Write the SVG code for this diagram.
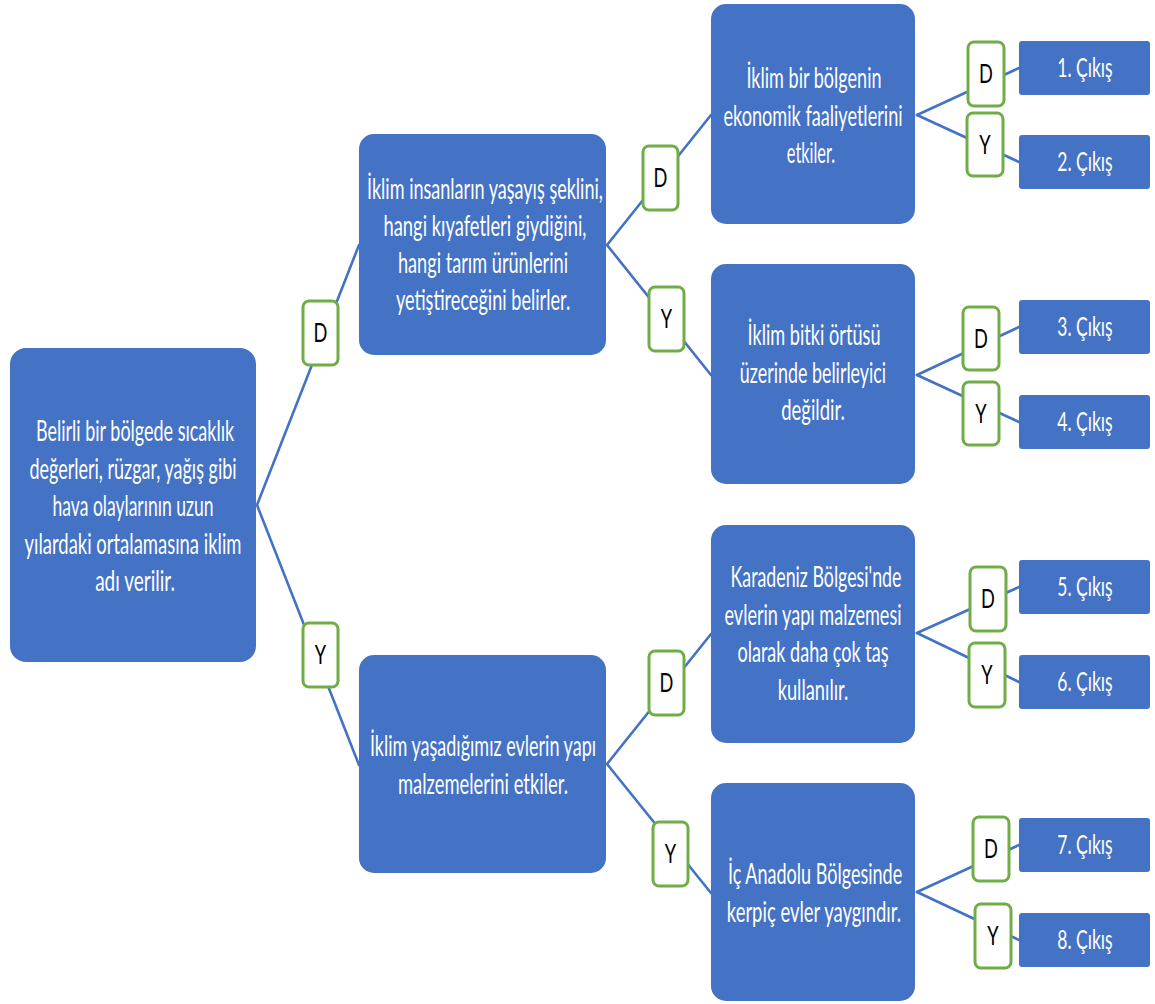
<svg xmlns="http://www.w3.org/2000/svg" width="1155" height="1004" viewBox="0 0 1155 1004">
  <style>
    .node { fill: #4472C4; }
    .out { fill: #4472C4; }
    .tag { fill: #FFFFFF; stroke: #70AD47; stroke-width: 3; }
    .link { stroke: #4472C4; stroke-width: 2.6; fill: none; stroke-linecap: round; }
    .t { font-family: Lato, "Liberation Sans", sans-serif; font-size: 28px; fill: #FFFFFF; text-anchor: middle; }
    .o { font-family: Lato, "Liberation Sans", sans-serif; font-size: 27px; fill: #FFFFFF; text-anchor: middle; }
    .k { font-family: Lato, "Liberation Sans", sans-serif; font-size: 26px; fill: #000000; text-anchor: middle; }
  </style>
  <rect width="1155" height="1004" fill="#FFFFFF"/>

  <!-- connector lines (drawn first, under nodes and tags) -->
  <g id="connectors">
    <line class="link" x1="257" y1="505" x2="359" y2="245"/>
    <line class="link" x1="257" y1="505" x2="359" y2="765"/>
    <line class="link" x1="607" y1="245" x2="711" y2="115"/>
    <line class="link" x1="607" y1="245" x2="711" y2="375"/>
    <line class="link" x1="607" y1="764" x2="711" y2="634"/>
    <line class="link" x1="607" y1="764" x2="711" y2="893"/>
    <line class="link" x1="917" y1="115" x2="1019" y2="68"/>
    <line class="link" x1="917" y1="115" x2="1019" y2="162"/>
    <line class="link" x1="917" y1="375" x2="1019" y2="327"/>
    <line class="link" x1="917" y1="375" x2="1019" y2="422"/>
    <line class="link" x1="917" y1="633" x2="1019" y2="587"/>
    <line class="link" x1="917" y1="633" x2="1019" y2="682"/>
    <line class="link" x1="917" y1="892" x2="1019" y2="845"/>
    <line class="link" x1="917" y1="892" x2="1019" y2="940"/>
  </g>

  <!-- root statement (text drawn condensed: group scaled 0.7 horizontally) -->
  <g id="root">
    <rect class="node" x="10" y="348" width="246" height="314" rx="16"/>
    <g transform="translate(133 0) scale(0.7 1)">
      <text class="t" x="2.9" y="441" textLength="283" lengthAdjust="spacingAndGlyphs">Belirli bir bölgede sıcaklık</text>
      <text class="t" x="0" y="479" textLength="296" lengthAdjust="spacingAndGlyphs">değerleri, rüzgar, yağış gibi</text>
      <text class="t" x="0" y="516" textLength="230" lengthAdjust="spacingAndGlyphs">hava olaylarının uzun</text>
      <text class="t" x="0" y="554" textLength="310" lengthAdjust="spacingAndGlyphs">yılardaki ortalamasına iklim</text>
      <text class="t" x="2.9" y="591" textLength="114" lengthAdjust="spacingAndGlyphs">adı verilir.</text>
    </g>
  </g>

  <!-- second level -->
  <g id="q-yasayis">
    <rect class="node" x="359" y="134" width="247" height="221" rx="15"/>
    <g transform="translate(484 0) scale(0.7 1)">
      <text class="t" x="1.4" y="199" textLength="337" lengthAdjust="spacingAndGlyphs">İklim insanların yaşayış şeklini,</text>
      <text class="t" x="1.4" y="236" textLength="290" lengthAdjust="spacingAndGlyphs">hangi kıyafetleri giydiğini,</text>
      <text class="t" x="-1.4" y="273" textLength="243" lengthAdjust="spacingAndGlyphs">hangi tarım ürünlerini</text>
      <text class="t" x="-1.4" y="310" textLength="249" lengthAdjust="spacingAndGlyphs">yetiştireceğini belirler.</text>
    </g>
  </g>
  <g id="q-evler">
    <rect class="node" x="359" y="655" width="247" height="218" rx="15"/>
    <g transform="translate(483 0) scale(0.7 1)">
      <text class="t" x="0" y="756" textLength="323" lengthAdjust="spacingAndGlyphs">İklim yaşadığımız evlerin yapı</text>
      <text class="t" x="0" y="794" textLength="243" lengthAdjust="spacingAndGlyphs">malzemelerini etkiler.</text>
    </g>
  </g>

  <!-- third level -->
  <g id="q-ekonomi">
    <rect class="node" x="711" y="4" width="204" height="220" rx="15"/>
    <g transform="translate(813 0) scale(0.7 1)">
      <text class="t" x="1.4" y="88" textLength="193" lengthAdjust="spacingAndGlyphs">İklim bir bölgenin</text>
      <text class="t" x="0" y="126" textLength="256" lengthAdjust="spacingAndGlyphs">ekonomik faaliyetlerini</text>
      <text class="t" x="-2.9" y="163" textLength="69" lengthAdjust="spacingAndGlyphs">etkiler.</text>
    </g>
  </g>
  <g id="q-bitki">
    <rect class="node" x="711" y="264" width="204" height="220" rx="15"/>
    <g transform="translate(813 0) scale(0.7 1)">
      <text class="t" x="1.4" y="345" textLength="190" lengthAdjust="spacingAndGlyphs">İklim bitki örtüsü</text>
      <text class="t" x="0" y="383" textLength="209" lengthAdjust="spacingAndGlyphs">üzerinde belirleyici</text>
      <text class="t" x="0" y="420" textLength="91" lengthAdjust="spacingAndGlyphs">değildir.</text>
    </g>
  </g>
  <g id="q-karadeniz">
    <rect class="node" x="711" y="525" width="204" height="218" rx="15"/>
    <g transform="translate(813 0) scale(0.7 1)">
      <text class="t" x="4.3" y="587" textLength="244" lengthAdjust="spacingAndGlyphs">Karadeniz Bölgesi'nde</text>
      <text class="t" x="0" y="625" textLength="253" lengthAdjust="spacingAndGlyphs">evlerin yapı malzemesi</text>
      <text class="t" x="0" y="662" textLength="216" lengthAdjust="spacingAndGlyphs">olarak daha çok taş</text>
      <text class="t" x="0" y="700" textLength="101" lengthAdjust="spacingAndGlyphs">kullanılır.</text>
    </g>
  </g>
  <g id="q-anadolu">
    <rect class="node" x="711" y="783" width="204" height="218" rx="15"/>
    <g transform="translate(813 0) scale(0.7 1)">
      <text class="t" x="2.9" y="884" textLength="249" lengthAdjust="spacingAndGlyphs">İç Anadolu Bölgesinde</text>
      <text class="t" x="1.4" y="922" textLength="249" lengthAdjust="spacingAndGlyphs">kerpiç evler yaygındır.</text>
    </g>
  </g>

  <!-- outcomes -->
  <g id="out-1"><rect class="out" x="1019" y="41" width="131" height="54" rx="3"/><g transform="translate(1085 0) scale(0.7 1)"><text class="o" x="0" y="77" textLength="79" lengthAdjust="spacingAndGlyphs">1. Çıkış</text></g></g>
  <g id="out-2"><rect class="out" x="1019" y="135" width="131" height="54" rx="3"/><g transform="translate(1085 0) scale(0.7 1)"><text class="o" x="0" y="171" textLength="79" lengthAdjust="spacingAndGlyphs">2. Çıkış</text></g></g>
  <g id="out-3"><rect class="out" x="1019" y="300" width="131" height="54" rx="3"/><g transform="translate(1085 0) scale(0.7 1)"><text class="o" x="0" y="336" textLength="79" lengthAdjust="spacingAndGlyphs">3. Çıkış</text></g></g>
  <g id="out-4"><rect class="out" x="1019" y="395" width="131" height="54" rx="3"/><g transform="translate(1085 0) scale(0.7 1)"><text class="o" x="0" y="431" textLength="79" lengthAdjust="spacingAndGlyphs">4. Çıkış</text></g></g>
  <g id="out-5"><rect class="out" x="1019" y="560" width="131" height="54" rx="3"/><g transform="translate(1085 0) scale(0.7 1)"><text class="o" x="0" y="596" textLength="79" lengthAdjust="spacingAndGlyphs">5. Çıkış</text></g></g>
  <g id="out-6"><rect class="out" x="1019" y="655" width="131" height="54" rx="3"/><g transform="translate(1085 0) scale(0.7 1)"><text class="o" x="0" y="691" textLength="79" lengthAdjust="spacingAndGlyphs">6. Çıkış</text></g></g>
  <g id="out-7"><rect class="out" x="1019" y="818" width="131" height="54" rx="3"/><g transform="translate(1085 0) scale(0.7 1)"><text class="o" x="0" y="854" textLength="79" lengthAdjust="spacingAndGlyphs">7. Çıkış</text></g></g>
  <g id="out-8"><rect class="out" x="1019" y="913" width="131" height="54" rx="3"/><g transform="translate(1085 0) scale(0.7 1)"><text class="o" x="0" y="949" textLength="79" lengthAdjust="spacingAndGlyphs">8. Çıkış</text></g></g>

  <!-- D / Y answer tags placed on the connectors -->
  <g id="tag-root-d"><rect class="tag" x="303" y="301" width="35" height="64" rx="6"/><g transform="translate(320.5 0) scale(0.7 1)"><text class="k" x="0" y="342">D</text></g></g>
  <g id="tag-root-y"><rect class="tag" x="303" y="623" width="35" height="64" rx="6"/><g transform="translate(320.5 0) scale(0.7 1)"><text class="k" x="0" y="664">Y</text></g></g>
  <g id="tag-yasayis-d"><rect class="tag" x="643" y="146" width="35" height="64" rx="6"/><g transform="translate(660.5 0) scale(0.7 1)"><text class="k" x="0" y="187">D</text></g></g>
  <g id="tag-yasayis-y"><rect class="tag" x="649" y="287" width="35" height="64" rx="6"/><g transform="translate(666.5 0) scale(0.7 1)"><text class="k" x="0" y="328">Y</text></g></g>
  <g id="tag-evler-d"><rect class="tag" x="649" y="651" width="35" height="64" rx="6"/><g transform="translate(666.5 0) scale(0.7 1)"><text class="k" x="0" y="692">D</text></g></g>
  <g id="tag-evler-y"><rect class="tag" x="653" y="822" width="35" height="64" rx="6"/><g transform="translate(670.5 0) scale(0.7 1)"><text class="k" x="0" y="863">Y</text></g></g>
  <g id="tag-ekonomi-d"><rect class="tag" x="968" y="42" width="36" height="64" rx="6"/><g transform="translate(986 0) scale(0.7 1)"><text class="k" x="0" y="83">D</text></g></g>
  <g id="tag-ekonomi-y"><rect class="tag" x="967" y="113" width="36" height="63" rx="6"/><g transform="translate(985 0) scale(0.7 1)"><text class="k" x="0" y="154">Y</text></g></g>
  <g id="tag-bitki-d"><rect class="tag" x="963" y="307" width="36" height="63" rx="6"/><g transform="translate(981 0) scale(0.7 1)"><text class="k" x="0" y="348">D</text></g></g>
  <g id="tag-bitki-y"><rect class="tag" x="963" y="382" width="36" height="63" rx="6"/><g transform="translate(981 0) scale(0.7 1)"><text class="k" x="0" y="423">Y</text></g></g>
  <g id="tag-karadeniz-d"><rect class="tag" x="970" y="567" width="36" height="64" rx="6"/><g transform="translate(988 0) scale(0.7 1)"><text class="k" x="0" y="608">D</text></g></g>
  <g id="tag-karadeniz-y"><rect class="tag" x="969" y="643" width="36" height="64" rx="6"/><g transform="translate(987 0) scale(0.7 1)"><text class="k" x="0" y="684">Y</text></g></g>
  <g id="tag-anadolu-d"><rect class="tag" x="973" y="817" width="36" height="64" rx="6"/><g transform="translate(991 0) scale(0.7 1)"><text class="k" x="0" y="858">D</text></g></g>
  <g id="tag-anadolu-y"><rect class="tag" x="975" y="904" width="36" height="64" rx="6"/><g transform="translate(993 0) scale(0.7 1)"><text class="k" x="0" y="945">Y</text></g></g>
</svg>
